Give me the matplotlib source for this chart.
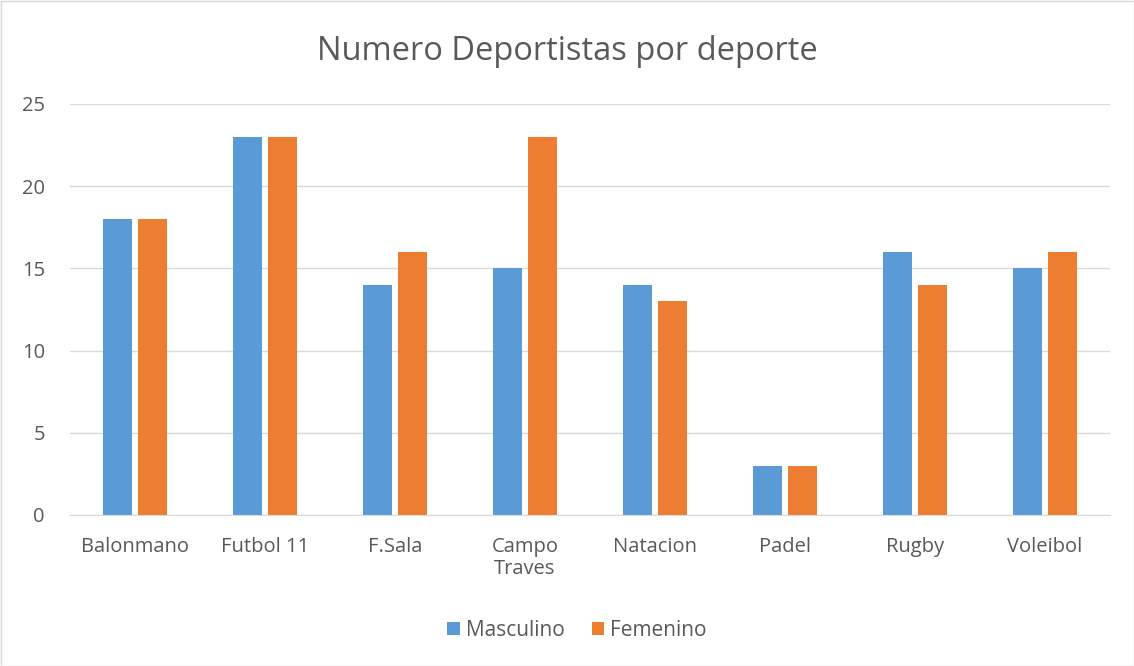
import matplotlib
matplotlib.use("Agg")
import matplotlib.pyplot as plt
import numpy as np
from matplotlib.patches import Rectangle

categories = ["Balonmano", "Futbol 11", "F.Sala", "Campo\nTraves", "Natacion", "Padel", "Rugby", "Voleibol"]
masculino = [18, 23, 14, 15, 14, 3, 16, 15]
femenino = [18, 23, 16, 23, 13, 3, 14, 16]
series_names = ["Masculino", "Femenino"]
yticks = [0, 5, 10, 15, 20, 25]

plt.rcParams['font.family'] = ['Open Sans', 'DejaVu Sans']

fig = plt.figure(figsize=(11.34, 6.66), dpi=100)
ax = fig.add_axes([70/1134, 1-515/666, 1040/1134, 411/666])

x = np.arange(len(categories))
w = 0.223
off = 0.138
ax.bar(x - off, masculino, w, color="#5B9BD5", label=series_names[0], zorder=3)
ax.bar(x + off, femenino, w, color="#ED7D31", label=series_names[1], zorder=3)

ax.set_xlim(-0.5, len(categories) - 0.5)
ax.set_ylim(0, 25)
ax.set_yticks(yticks)
ax.set_xticks(x)
ax.set_xticklabels(categories, fontsize=14.5, color="#595959", linespacing=1.15)
ax.tick_params(axis='y', labelsize=14.5, labelcolor="#595959", length=0, pad=18)
ax.tick_params(axis='x', length=0, pad=16)
ax.grid(axis='y', color="#D9D9D9", linewidth=1, zorder=0)
for s in ["top", "right", "left"]:
    ax.spines[s].set_visible(False)
ax.spines["bottom"].set_color("#D9D9D9")
ax.spines["bottom"].set_zorder(4)

fig.text(0.5, 1-52/666, "Numero Deportistas por deporte", ha="center", va="center",
         fontsize=23.5, color="#595959")

fig.legend(loc="center", bbox_to_anchor=(577/1134, 1-630/666), ncol=2, frameon=False,
           fontsize=15, handlelength=0.6, handleheight=0.6, handletextpad=0.3,
           columnspacing=1.3, labelcolor="#595959")

fig.patches.append(Rectangle((0.5/1134, 0.5/666), 1-1/1134, 1-1/666, transform=fig.transFigure,
                             fill=False, edgecolor="#D9D9D9", linewidth=1))

fig.savefig("out.png", dpi=100)
